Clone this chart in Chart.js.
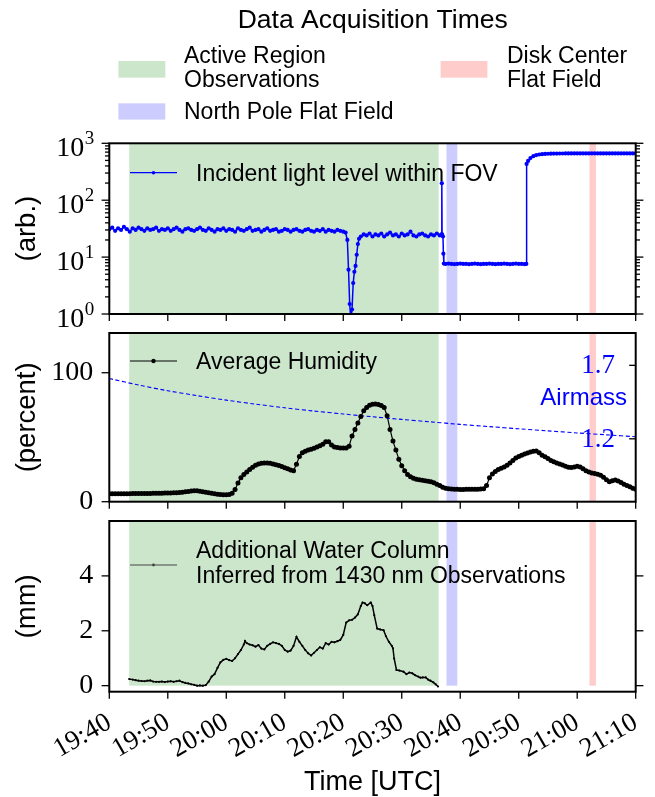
<!DOCTYPE html>
<html><head><meta charset="utf-8">
<script src="https://cdn.jsdelivr.net/npm/chart.js@4.4.0/dist/chart.umd.min.js"></script>
<style>
html,body{margin:0;padding:0;background:#fff;}
#wrap{position:relative;width:655px;height:797px;overflow:hidden;background:#fff;}
canvas{position:absolute;left:0;}
</style></head><body>
<div id="wrap">
<canvas id="c1" width="655" height="329" style="top:0;width:655px;height:329px"></canvas>
<canvas id="c2" width="655" height="183" style="top:329px;width:655px;height:183px"></canvas>
<canvas id="c3" width="655" height="285" style="top:512px;width:655px;height:285px"></canvas>
</div>
<script>
// ---------------- DATA (minutes after 19:40 UTC) ----------------
const tickMinutes = [0,10,20,30,40,50,60,70,80,90];
const timeLabels = ['19:40','19:50','20:00','20:10','20:20','20:30','20:40','20:50','21:00','21:10'];

const spanNames = [['Active Region','Observations'],['North Pole Flat Field'],['Disk Center','Flat Field']];
const spanStart = [3.4, 57.65, 82.1];
const spanEnd   = [56.3, 59.5, 83.2];

const lightT = [0,0.5,1,1.5,2,2.5,3,3.5,4,4.5,5,5.5,6,6.5,7,7.5,8,8.5,9,9.5,10,10.5,11,11.5,12,12.5,13,13.5,14,14.5,15,15.5,16,16.5,17,17.5,18,18.5,19,19.5,20,20.5,21,21.5,22,22.5,23,23.5,24,24.5,25,25.5,26,26.5,27,27.5,28,28.5,29,29.5,30,30.5,31,31.5,32,32.5,33,33.5,34,34.5,35,35.5,36,36.5,37,37.5,38,38.5,39,39.5,40,
 40.4,40.7,40.9,41.1,41.3,41.5,41.7,41.9,42.1,42.3,42.5,42.7,43,43.5,
 44,44.5,45,45.5,46,46.5,47,47.5,48,48.5,49,49.5,50,50.5,51,51.5,52,52.5,53,53.5,54,54.5,55,55.5,56,56.5,
 56.8,56.85,56.9,57.05,57.12,57.2,
 57.5,58,58.5,59,59.5,60,60.5,61,61.5,62,62.5,63,63.5,64,64.5,65,65.5,66,66.5,67,67.5,68,68.5,69,69.5,70,70.5,71,71.3,
 71.35,71.6,72,72.5,73,73.5,74,74.5,75,75.5,76,
 76.5,77,77.5,78,78.5,79,79.5,80,80.5,81,81.5,82,82.5,83,83.5,84,84.5,85,85.5,86,86.5,87,87.5,88,88.5,89,89.5,90];
const lightV = [31,33,29,32,30,34,31,28,32,30,
 33,31,29,32,30,31,33,29,31,30,
 32,29,31,33,30,28,31,32,30,29,
 31,33,30,29,32,30,28,31,30,32,
 29,31,30,28,32,30,29,31,33,29,
 30,31,28,30,32,29,30,31,28,29,
 31,30,28,30,31,29,28,30,31,29,
 28,30,29,31,28,30,29,28,30,29,
 28,
 27,20,6,1.5,0.8,1.2,3.5,5.5,7,11,17,21,23,25,
 24,26,23,25,24,26,23,25,27,24,25,23,26,24,25,28,24,23,25,26,24,23,25,24,26,24,
 25,199,25,23,11.5,7.7,
 7.6,7.7,7.6,7.5,7.6,7.7,7.6,7.6,7.5,7.6,7.7,7.6,7.5,7.6,7.6,7.7,7.6,7.5,7.6,7.6,7.7,7.6,7.5,7.6,7.7,7.6,7.6,7.5,7.6,
 434,490,550,595,620,635,645,650,655,658,660,
 661,662,662,663,663,664,664,664,665,665,665,665,665,665,665,665,665,665,665,665,665,665,665,665,665,665,665,665];

const humT = [0,0.5,1,1.5,2,2.5,3,3.5,4,4.5,5,5.5,6,6.5,7,7.5,8,8.5,9,9.5,10,10.5,11,11.5,12,12.5,13,13.5,14,14.5,15,15.5,16,16.5,17,17.5,18,18.5,19,19.5,20,20.5,21,21.5,22,22.5,23,23.5,24,24.5,25,25.5,26,26.5,27,27.5,28,28.5,29,29.5,30,30.5,31,31.5,32,32.5,33,33.5,34,34.5,35,35.5,36,36.5,37,37.5,38,38.5,39,39.5,40,40.5,41,41.5,42,42.5,43,43.5,44,44.5,45,45.5,46,46.5,47,47.5,48,48.5,49,49.5,50,50.5,51,51.5,52,52.5,53,53.5,54,54.5,55,55.5,56,56.5,57,57.5,58,58.5,59,59.5,60,60.5,61,61.5,62,62.5,63,63.5,64,64.5,65,65.5,66,66.5,67,67.5,68,68.5,69,69.5,70,70.5,71,71.5,72,72.5,73,73.5,74,74.5,75,75.5,76,76.5,77,77.5,78,78.5,79,79.5,80,80.5,81,81.5,82,82.5,83,83.5,84,84.5,85,85.5,86,86.5,87,87.5,88,88.5,89,89.5,90];
const humV = [6.1,6.1,6.1,6.2,6.2,6.2,6.2,6.2,6.3,6.3,
 6.3,6.3,6.4,6.4,6.4,6.5,6.5,6.6,6.6,6.7,
 6.7,6.8,6.9,7.0,7.2,7.4,7.7,8.0,8.3,8.5,
 8.4,8.1,7.7,7.3,7.0,6.6,6.2,5.8,5.5,5.3,
 5.3,5.5,6.5,9.5,14.5,18.5,21,23,25,26.8,
 28.2,29.2,29.8,30,30,29.8,29.3,28.6,28,27.2,
 26.4,25.5,24.5,24,29,35,38,39.2,40,40.7,
 41.5,42.5,43.4,44.5,46.5,46.5,44,42.5,42,41.7,
 41.6,41.7,43,51,56,61,66,70.5,73,74.7,
 75.5,75.8,75.4,74.5,73,66.7,56,47,40,33,
 27.8,24,21,19.3,18.2,17.5,17,16.7,16.3,15.8,
 15.4,14.6,13.6,12.5,11.3,10.4,10,9.8,9.6,9.6,
 9.5,9.5,9.6,9.6,9.6,9.6,9.7,9.8,10,12.5,
 18.5,21.5,23.5,25,26,27,28.3,30,32,33.8,
 35,36,37,37.8,38.5,39.2,39.4,38,36,34.8,
 33.5,32,30.9,30,29.2,28.4,27.5,26.8,26.5,27,
 27.5,27,25.5,24,23,22.3,21.8,21.2,20.6,19,
 17,15.5,16.2,16.8,16,14.8,13.6,12.5,11.5,10.5,
 9.6];

const airmassT = [0,5,10,15,20,25,30,35,40,45,50,55,60,65,70,75,80,85,90];
const airmassV = [1.61,1.566,1.527,1.494,1.463,1.436,1.411,1.389,1.369,1.35,1.332,1.315,1.298,1.283,1.268,1.254,1.24,1.227,1.214];

const waterT = [3.4,4,4.5,5,5.5,6,6.5,7,7.5,8,8.5,9,9.5,10,10.5,11,11.5,12,12.5,13,13.5,14,14.5,15,15.5,16,16.5,17,17.5,18,18.5,19,19.5,20,20.5,21,21.5,22,22.5,23,23.2,23.5,24,24.5,25,25.5,26,26.5,27,27.5,28,28.5,29,29.5,30,30.5,31,31.5,32,32.5,33,33.5,34,34.5,35,35.5,36,36.5,37,37.5,38,38.5,39,39.5,40,40.5,41,41.5,42,42.5,43,43.3,43.7,44.1,44.7,45,45.3,45.8,46.3,46.9,47.3,47.8,48.3,48.5,48.7,49.1,49.6,50.3,50.8,51.3,51.8,52.3,52.8,53.2,53.6,54.1,54.5,54.9,55.4,55.8,56.2];
const waterV = [0.24,0.22,0.2,0.18,0.17,0.16,0.18,0.19,0.15,0.14,0.14,0.15,0.13,0.15,0.16,0.14,0.16,0.18,0.13,0.1,0.08,0.05,0.03,0.0,0.01,0.0,0.02,0.15,
 0.33,0.42,0.65,0.85,0.94,0.98,0.93,0.9,1.0,1.15,1.3,1.5,
 1.63,
 1.55,1.5,1.47,1.42,1.48,1.35,1.32,1.45,1.52,1.58,
 1.55,1.52,1.45,1.3,1.24,1.28,1.45,1.78,1.6,1.45,
 1.3,1.18,1.1,1.2,1.3,1.4,1.35,1.55,1.5,1.6,
 1.58,1.62,1.67,1.85,2.3,2.38,2.4,2.48,2.6,2.9,
 3.03,3.0,2.93,3.03,2.9,2.57,2.08,2.05,2.02,1.8,
 1.6,1.45,1.36,0.99,0.57,0.55,0.51,0.42,0.48,0.45,
 0.38,0.33,0.29,0.3,0.3,0.22,0.18,0.12,0.05,-0.03];

const logDecades = [1,10,100,1000];
const logMinor = [2,3,4,5,6,7,8,9,20,30,40,50,60,70,80,90,200,300,400,500,600,700,800,900];
const humTicks = [0,100];
const airmassTicks = [1.2,1.7];
const waterTicks = [0,2,4];

// ---------------- STYLE ----------------
const SANS = '"Liberation Sans", Arial, Helvetica, sans-serif';
const SERIF = '"Liberation Serif", "Times New Roman", serif';
const spanColors = ['rgba(0,128,0,0.2)','rgba(0,0,255,0.2)','rgba(255,0,0,0.2)'];
const AXL = 109.3, PADR = 19.3;

function pts(T, V){ return T.map((t,i)=>({x:t, y:V[i]})); }

function decor(cfg){
  return {
    id:'decor',
    beforeDatasetsDraw(chart){
      const {ctx, chartArea:a, scales} = chart;
      const xs = scales.x, ys = scales.y;
      ctx.save();
      ctx.beginPath(); ctx.rect(a.left, a.top, a.right-a.left, a.bottom-a.top); ctx.clip();
      const yb = Math.min(ys.getPixelForValue(cfg.spanBase), a.bottom);
      for (let i=0;i<spanStart.length;i++){
        const x0 = xs.getPixelForValue(spanStart[i]), x1 = xs.getPixelForValue(spanEnd[i]);
        ctx.fillStyle = spanColors[i];
        ctx.fillRect(x0, a.top, x1-x0, yb-a.top);
      }
      ctx.restore();
    },
    afterDraw(chart){
      const {ctx, chartArea:a, scales} = chart;
      ctx.save();
      ctx.strokeStyle = '#000'; ctx.lineWidth = 1.3;
      for (const t of cfg.ticks){
        const s = scales[t.scale];
        ctx.strokeStyle = t.color || '#000';
        for (const v of t.values){
          const p = s.getPixelForValue(v);
          ctx.beginPath();
          if (t.side==='left'){ ctx.moveTo(a.left,p); ctx.lineTo(a.left + (t.dir==='in'? t.len : -t.len), p); }
          else if (t.side==='right'){ ctx.moveTo(a.right,p); ctx.lineTo(a.right + (t.dir==='in'? -t.len : t.len), p); }
          else { ctx.moveTo(p,a.bottom); ctx.lineTo(p, a.bottom + t.len); }
          ctx.stroke();
        }
      }
      ctx.strokeStyle = '#000'; ctx.lineWidth = 2;
      ctx.strokeRect(a.left, a.top, a.right-a.left, a.bottom-a.top);
      ctx.restore();
      ctx.save();
      ctx.translate(0, -cfg.top);
      cfg.extra(chart, ctx);
      ctx.restore();
    }
  };
}

function fitY(s){ s.width = AXL; s.paddingTop = 0; s.paddingBottom = 0; }
const base = {responsive:false, animation:false, devicePixelRatio:1, events:[],
  plugins:{legend:{display:false}, tooltip:{enabled:false}}};
const hiddenGrid = {display:true, drawOnChartArea:false, drawTicks:true, tickLength:8, color:'rgba(0,0,0,0)'};
const xTicksCommon = (bottomLen)=>({scale:'x', side:'bottom', values:tickMinutes, len:bottomLen});

function legendLine(ctx, y, color, r){
  ctx.strokeStyle = color; ctx.lineWidth = 1.2;
  ctx.beginPath(); ctx.moveTo(130, y); ctx.lineTo(177, y); ctx.stroke();
  ctx.fillStyle = color; ctx.beginPath(); ctx.arc(153.5, y, r, 0, Math.PI*2); ctx.fill();
}

// ---------------- PANEL 1 ----------------
new Chart(document.getElementById('c1'), {
  type:'line',
  data:{datasets:[{label:'Incident light level within FOV', data:pts(lightT, lightV),
    borderColor:'#0000ff', borderWidth:1.5, pointRadius:2.1, pointBorderWidth:0,
    pointBackgroundColor:'#0000ff', tension:0}]},
  options:Object.assign({}, base, {
    layout:{padding:{top:143.3, bottom:15, left:0, right:PADR}},
    scales:{
      x:{type:'linear', min:0, max:90, display:false},
      y:{type:'logarithmic', min:1, max:1000, afterFit:fitY,
         ticks:{callback:()=>'', font:{size:1}}, grid:{display:false}, border:{display:false},
         title:{display:true, text:'(arb.)', color:'#000', font:{family:SANS, size:27.5, lineHeight:1.2}, padding:{top:10.8, bottom:0}}}
    }
  }),
  plugins:[decor({top:0, spanBase:1,
    ticks:[
      {scale:'y', side:'left', values:logDecades, len:7.7},
      {scale:'y', side:'left', values:logMinor, len:4.3},
      {scale:'y', side:'right', values:logDecades, len:7.7},
      {scale:'y', side:'right', values:logMinor, len:4.3},
      xTicksCommon(7)
    ],
    extra(chart, ctx){
      ctx.fillStyle = '#000'; ctx.textBaseline = 'alphabetic';
      ctx.font = `26.5px ${SANS}`; ctx.textAlign = 'center';
      ctx.fillText('Data Acquisition Times', 372.7, 28.3);
      ctx.fillStyle = spanColors[0]; ctx.fillRect(118.4, 61, 46.9, 16.7);
      ctx.fillStyle = spanColors[1]; ctx.fillRect(118.4, 103.3, 46.9, 16.3);
      ctx.fillStyle = spanColors[2]; ctx.fillRect(440.6, 61, 46.8, 16.7);
      ctx.fillStyle = '#000'; ctx.font = `23px ${SANS}`; ctx.textAlign = 'left';
      ctx.fillText(spanNames[0][0], 184, 63.3);
      ctx.fillText(spanNames[0][1], 184, 87.3);
      ctx.fillText(spanNames[1][0], 184, 119.3);
      ctx.fillText(spanNames[2][0], 507, 63.3);
      ctx.fillText(spanNames[2][1], 507, 87.3);
      legendLine(ctx, 172.7, '#0000ff', 1.8);
      ctx.fillStyle = '#000'; ctx.font = `23px ${SANS}`;
      ctx.fillText(chart.data.datasets[0].label, 196, 181);
      const ys = chart.scales.y;
      logDecades.forEach((v, n)=>{
        const p = ys.getPixelForValue(v);
        ctx.font = `19px ${SERIF}`;
        const ew = ctx.measureText(String(n)).width;
        const right = AXL - 15;
        ctx.textAlign = 'left'; ctx.fillText(String(n), right - ew, p + 0.5);
        ctx.font = `28px ${SERIF}`; ctx.textAlign = 'right';
        ctx.fillText('10', right - ew - 0.5, p + 13);
      });
    }
  })]
});

// ---------------- PANEL 2 ----------------
new Chart(document.getElementById('c2'), {
  type:'line',
  data:{datasets:[
    {label:'Average Humidity', data:pts(humT, humV), yAxisID:'y', borderColor:'#000', borderWidth:1.2,
     pointRadius:2.5, pointBorderWidth:0, pointBackgroundColor:'#000', tension:0},
    {label:'Airmass', data:pts(airmassT, airmassV), yAxisID:'y2', borderColor:'#0000ff', borderWidth:1.1,
     borderDash:[4,2.5], pointRadius:0, tension:0.3}
  ]},
  options:Object.assign({}, base, {
    layout:{padding:{top:2.7, bottom:10.3, left:0, right:PADR}},
    scales:{
      x:{type:'linear', min:0, max:90, display:false},
      y:{type:'linear', min:0, max:130.8, afterFit:fitY,
         afterBuildTicks:s=>{ s.ticks = humTicks.map(v=>({value:v})); },
         ticks:{color:'#000', padding:8, font:{family:SERIF, size:28, lineHeight:0.1}},
         grid:hiddenGrid, border:{display:false},
         title:{display:true, text:'(percent)', color:'#000', font:{family:SANS, size:27.5, lineHeight:1.2}, padding:{top:10.8, bottom:0}}},
      y2:{type:'linear', position:'right', min:0.772, max:1.92, display:false}
    }
  }),
  plugins:[decor({top:329, spanBase:0,
    ticks:[
      {scale:'y', side:'left', values:humTicks, len:7.7},
      {scale:'y2', side:'right', values:airmassTicks, len:6.5, dir:'in', color:'#000'},
      xTicksCommon(7)
    ],
    extra(chart, ctx){
      legendLine(ctx, 361, '#000', 2.2);
      ctx.fillStyle = '#000'; ctx.font = `23px ${SANS}`; ctx.textAlign = 'left'; ctx.textBaseline = 'alphabetic';
      ctx.fillText(chart.data.datasets[0].label, 196, 369);
      ctx.fillStyle = '#0000ff'; ctx.font = `24px ${SANS}`; ctx.textAlign = 'right';
      ctx.fillText(chart.data.datasets[1].label, 627, 405);
      const s2 = chart.scales.y2;
      ctx.font = `27px ${SERIF}`; ctx.textBaseline = 'middle';
      airmassTicks.forEach(v=>{
        ctx.fillText(v.toFixed(1), 615, s2.getPixelForValue(v) + 329 + 1);
      });
    }
  })]
});

// ---------------- PANEL 3 ----------------
new Chart(document.getElementById('c3'), {
  type:'line',
  data:{datasets:[{label:'Additional Water Column|Inferred from 1430 nm Observations', data:pts(waterT, waterV),
    borderColor:'#000', borderWidth:1.5, pointRadius:1.1, pointBorderWidth:0, pointBackgroundColor:'#000', tension:0}]},
  options:Object.assign({}, base, {
    layout:{padding:{top:9, bottom:0, left:0, right:PADR}},
    scales:{
      x:{type:'linear', min:0, max:90,
         afterBuildTicks:s=>{ s.ticks = tickMinutes.map(v=>({value:v})); },
         afterFit:s=>{ s.height = 105.3; s.paddingLeft = 0; s.paddingRight = 0; },
         ticks:{autoSkip:false, minRotation:30, maxRotation:30, color:'#000', padding:7,
                font:{family:SERIF, size:27},
                callback:(v)=> timeLabels[tickMinutes.indexOf(v)]},
         grid:hiddenGrid, border:{display:false},
         title:{display:true, text:'Time [UTC]', color:'#000', font:{family:SANS, size:27, lineHeight:1.1}, padding:{top:0, bottom:0}}},
      y:{type:'linear', min:-0.22, max:6.0, afterFit:fitY,
         afterBuildTicks:s=>{ s.ticks = waterTicks.map(v=>({value:v})); },
         ticks:{color:'#000', padding:8, font:{family:SERIF, size:28, lineHeight:0.1}},
         grid:hiddenGrid, border:{display:false},
         title:{display:true, text:'(mm)', color:'#000', font:{family:SANS, size:27.5, lineHeight:1.2}, padding:{top:10.8, bottom:0}}}
    }
  }),
  plugins:[decor({top:512, spanBase:0,
    ticks:[
      {scale:'y', side:'left', values:waterTicks, len:7.7},
      {scale:'y', side:'right', values:waterTicks, len:7.7},
      xTicksCommon(7)
    ],
    extra(chart, ctx){
      legendLine(ctx, 565, '#444', 1.4);
      const lines = chart.data.datasets[0].label.split('|');
      ctx.fillStyle = '#000'; ctx.font = `23px ${SANS}`; ctx.textAlign = 'left'; ctx.textBaseline = 'alphabetic';
      ctx.fillText(lines[0], 196, 557.7);
      ctx.fillText(lines[1], 196, 583.3);
    }
  })]
});
</script>
</body></html>
